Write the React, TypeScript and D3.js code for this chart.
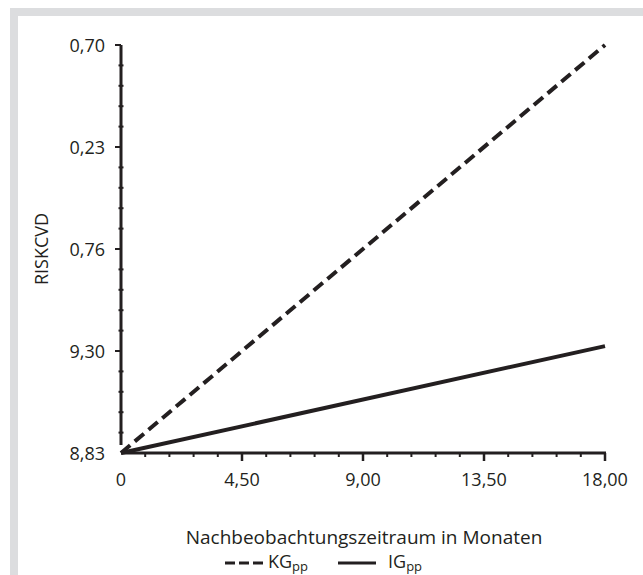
import React from "react";
import * as d3 from "d3";

const xTickValues = [0, 4.5, 9, 13.5, 18];
const xTickLabels = ["0", "4,50", "9,00", "13,50", "18,00"];
const yTickValues = [8.83, 9.2975, 9.765, 10.2325, 10.7];
const yTickLabels = ["8,83", "9,30", "0,76", "0,23", "0,70"];
const months = [0, 18];
const kgValues = [8.83, 10.7];
const igValues = [8.83, 9.32];

const W = 643;
const H = 575;
const FONT = "'Open Sans', 'Noto Sans', sans-serif";
const INK = "#231f20";

export default function App() {
  const x = d3.scaleLinear().domain([0, 18]).range([121, 605]);
  const y = d3.scaleLinear().domain([8.83, 10.7]).range([453, 45]);
  const line = d3
    .line<number>()
    .x((_, i) => x(months[i]))
    .y((d) => y(d));

  const xMinor: number[] = [];
  for (let i = 0; i < xTickValues.length - 1; i++) {
    const a = xTickValues[i], b = xTickValues[i + 1];
    for (let k = 1; k < 5; k++) xMinor.push(a + ((b - a) * k) / 5);
  }
  const yMinor: number[] = [];
  for (let i = 0; i < yTickValues.length - 1; i++) {
    const a = yTickValues[i], b = yTickValues[i + 1];
    for (let k = 1; k < 5; k++) yMinor.push(a + ((b - a) * k) / 5);
  }

  return (
    <svg
      width={W}
      height={H}
      style={{ position: "absolute", left: 0, top: 0, background: "#fff" }}
      fontFamily={FONT}
    >
      <rect x={0} y={0} width={W} height={H} fill="#fff" />
      {/* frame */}
      <rect x={10} y={8} width={W - 10} height={8} fill="#dcdddf" />
      <rect x={10} y={8} width={8} height={H - 8} fill="#dcdddf" />

      {/* y axis */}
      <line x1={x(0)} x2={x(0)} y1={y(10.7)} y2={y(8.83) - 8} stroke={INK} strokeWidth={3} />
      {yTickValues.map((v, i) =>
        i === 0 ? null : (
          <line key={"ym" + i} x1={x(0) - 6} x2={x(0)} y1={y(v)} y2={y(v)} stroke={INK} strokeWidth={2} />
        )
      )}
      {yMinor.map((v, i) => (
        <line key={"yn" + i} x1={x(0) - 2.5} x2={x(0) + 2.5} y1={y(v)} y2={y(v)} stroke={INK} strokeWidth={2} />
      ))}
      {yTickValues.map((v, i) => (
        <text
          key={"yl" + i}
          x={105}
          y={y(v)}
          textAnchor="end"
          dominantBaseline="central"
          fontSize={18}
          fill={INK}
        >
          {yTickLabels[i]}
        </text>
      ))}

      {/* x axis */}
      <line x1={x(0)} x2={x(18) + 1} y1={y(8.83)} y2={y(8.83)} stroke={INK} strokeWidth={3} />
      {xTickValues.map((v, i) =>
        i === 0 ? null : (
          <line key={"xm" + i} x1={x(v)} x2={x(v)} y1={y(8.83)} y2={y(8.83) + 8} stroke={INK} strokeWidth={2.5} />
        )
      )}
      {xMinor.map((v, i) => (
        <line key={"xn" + i} x1={x(v)} x2={x(v)} y1={y(8.83)} y2={y(8.83) + 4} stroke={INK} strokeWidth={2} />
      ))}
      {xTickValues.map((v, i) => (
        <text
          key={"xl" + i}
          x={x(v)}
          y={479}
          textAnchor="middle"
          dominantBaseline="central"
          fontSize={18}
          fill={INK}
        >
          {xTickLabels[i]}
        </text>
      ))}

      {/* data lines */}
      <path d={line(kgValues) || ""} fill="none" stroke={INK} strokeWidth={4} strokeDasharray="12 6" />
      <path d={line(igValues) || ""} fill="none" stroke={INK} strokeWidth={4} />

      {/* titles */}
      <text x={364} y={537} textAnchor="middle" dominantBaseline="central" fontSize={19} fill={INK}>
        Nachbeobachtungszeitraum in Monaten
      </text>
      <text
        transform={`translate(41,249) rotate(-90)`}
        textAnchor="middle"
        dominantBaseline="central"
        fontSize={18}
        fill={INK}
      >
        RISKCVD
      </text>

      {/* legend */}
      <line x1={225} x2={263} y1={563} y2={563} stroke={INK} strokeWidth={3} strokeDasharray="10 4" />
      <text x={268} y={561} dominantBaseline="central" fontSize={18} fill={INK}>
        KG<tspan fontSize={13} dy={5}>pp</tspan>
      </text>
      <line x1={338} x2={376} y1={563} y2={563} stroke={INK} strokeWidth={3} />
      <text x={388} y={561} dominantBaseline="central" fontSize={18} fill={INK}>
        IG<tspan fontSize={13} dy={5}>pp</tspan>
      </text>
    </svg>
  );
}
